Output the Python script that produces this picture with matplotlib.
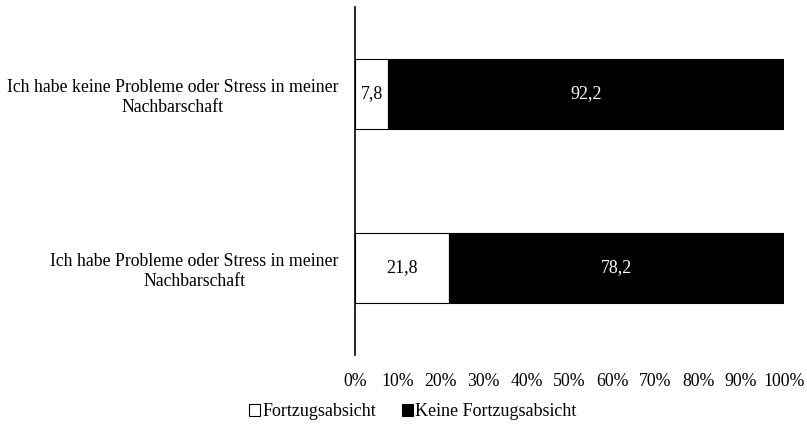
import numpy as np
import matplotlib.pyplot as plt

plt.rcParams['font.family'] = ['Liberation Serif', 'DejaVu Serif']

# data
kategorien = ['Ich habe Probleme oder Stress in meiner\nNachbarschaft',
              'Ich habe keine Probleme oder Stress in meiner\nNachbarschaft']
fortzug = [21.8, 7.8]
kein_fortzug = [78.2, 92.2]
serien = ['Fortzugsabsicht', 'Keine Fortzugsabsicht']

fig = plt.figure(figsize=(8.07, 4.26), dpi=100)
ax = fig.add_axes([355/807, 1-355/426, (784-355)/807, 348/426])

y = np.arange(len(kategorien))
b1 = ax.barh(y, fortzug, height=0.4, color='white', edgecolor='black', linewidth=0.8, label=serien[0])
b2 = ax.barh(y, kein_fortzug, left=fortzug, height=0.4, color='black', edgecolor='black', linewidth=0.8, label=serien[1])

for i in range(len(y)):
    ax.text(fortzug[i]/2, y[i], f'{fortzug[i]:.1f}'.replace('.', ','), ha='center', va='center',
            fontsize=13, color='black')
    ax.text(fortzug[i] + kein_fortzug[i]/2, y[i], f'{kein_fortzug[i]:.1f}'.replace('.', ','),
            ha='center', va='center', fontsize=13, color='white')

ax.set_xlim(0, 100)
ax.set_ylim(-0.5, 1.5)
ax.set_xticks(np.arange(0, 101, 10))
ax.set_xticklabels([f'{v}%' for v in range(0, 101, 10)], fontsize=12.8)
ax.set_yticks(y)
ax.set_yticklabels(kategorien, fontsize=12.8)
for lab in ax.get_yticklabels():
    lab.set_multialignment('center')
    lab.set_linespacing(1.25)
ax.tick_params(axis='both', length=0)
ax.tick_params(axis='x', pad=13)
ax.tick_params(axis='y', pad=12)
for s in ['top', 'right', 'bottom']:
    ax.spines[s].set_visible(False)
ax.spines['left'].set_linewidth(1.2)

fig.legend(handles=[b1, b2], labels=serien, loc='center', bbox_to_anchor=(413/807, 1-412/426),
           ncol=2, frameon=False, fontsize=13, handlelength=0.6, handleheight=0.6,
           handletextpad=0.15, columnspacing=1.4)

fig.savefig('out.png', dpi=100)
